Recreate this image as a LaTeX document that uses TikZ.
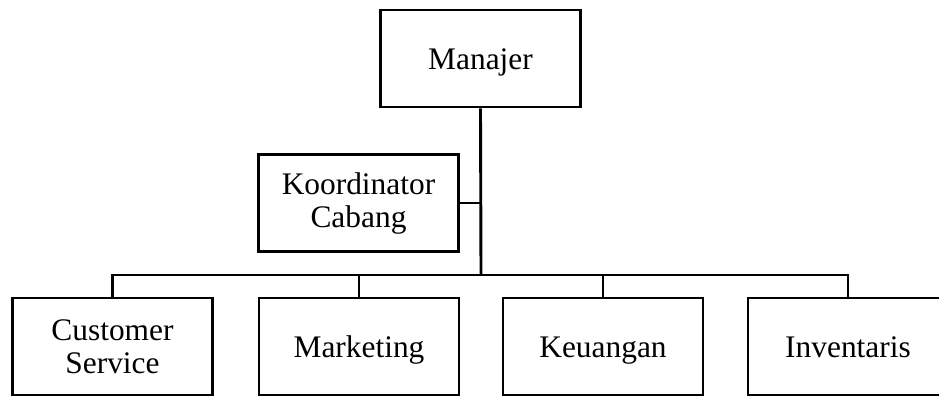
\documentclass[tikz,border=0pt]{standalone}
\usepackage{fontspec}
\setmainfont{Liberation Serif}
\begin{document}
\begin{tikzpicture}[x=1pt,y=-1pt,
  unit/.style={draw=black, line width=2.9pt, minimum width=200pt, minimum height=97pt,
    inner sep=0pt, align=center, font=\fontsize{31.4}{33}\selectfont},
  oneline/.style={unit, text height=22pt, text depth=0pt},
  link/.style={line width=2.9pt}]
\useasboundingbox (0,0) rectangle (939,397);
\clip (0,0) rectangle (939,397);
\fill[white] (0,0) rectangle (939,397);
\node[oneline] (man) at (480.5,58.5) {Manajer};
\node[unit] (koor) at (358.5,203) {Koordinator\\Cabang};
\node[unit] (cs) at (112.5,346.5) {Customer\\Service};
\node[oneline] (mk) at (359,346.5) {Marketing};
\node[oneline] (ku) at (603,346.5) {Keuangan};
\node[oneline] (inv) at (848,346.5) {Inventaris};
\coordinate (j) at (481,275);
\draw[link] (man.south) -- (j);
\draw[link] (koor.east) -- (koor.east -| j);
\draw[link] (cs.north) |- (j) -| (inv.north);
\draw[link] (mk.north) -- (mk.north |- j);
\draw[link] (ku.north) -- (ku.north |- j);
\end{tikzpicture}
\end{document}
